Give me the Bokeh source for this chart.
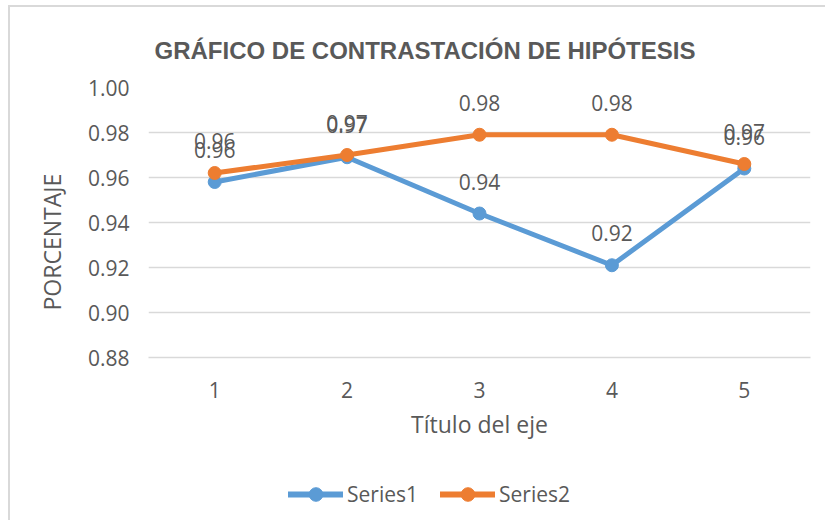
from bokeh.plotting import figure
from bokeh.layouts import column
from bokeh.models import (ColumnDataSource, LabelSet, Legend, LegendItem, Title,
                          FixedTicker, NumeralTickFormatter, Range1d)
from bokeh.core.properties import value
from bokeh.embed import file_html
from bokeh.resources import INLINE

categories = [1, 2, 3, 4, 5]
series1 = [0.958, 0.969, 0.944, 0.921, 0.964]
series2 = [0.962, 0.970, 0.979, 0.979, 0.966]
y_ticks = [0.88, 0.90, 0.92, 0.94, 0.96, 0.98, 1.00]
series_names = ["Series1", "Series2"]

title_text = "GRÁFICO DE CONTRASTACIÓN DE HIPÓTESIS"
y_title = "PORCENTAJE"
x_title = "Título del eje"

BLUE = "#5B9BD5"
ORANGE = "#ED7D31"
TXT = "#595959"
GRID = "#D9D9D9"
FONT = "Open Sans"

# the whole chart sits inside a light frame starting at (8, 5), 2px wide
p = figure(width=815, height=453, output_backend="svg", toolbar_location=None,
           x_range=Range1d(0.5, 5.5), y_range=Range1d(0.88, 1.00),
           min_border_left=138, min_border_right=15, min_border_top=80,
           min_border_bottom=103, title=None)
p.outline_line_color = None
p.background_fill_color = "white"
p.border_fill_color = "white"

p.xgrid.grid_line_color = None
p.ygrid.grid_line_color = GRID
p.ygrid.grid_line_width = 1.5
p.yaxis.ticker = FixedTicker(ticks=y_ticks)
p.yaxis.formatter = NumeralTickFormatter(format="0.00")
p.xaxis.ticker = FixedTicker(ticks=categories)

for ax in (p.xaxis[0], p.yaxis[0]):
    ax.major_tick_line_color = None
    ax.minor_tick_line_color = None
    ax.major_label_text_font = FONT
    ax.major_label_text_font_size = "21px"
    ax.major_label_text_color = TXT
p.yaxis.axis_line_color = None
p.xaxis.axis_line_color = GRID
p.xaxis.axis_line_width = 1.5
p.yaxis.major_label_standoff = 13
p.xaxis.major_label_standoff = 18
p.xaxis.axis_label = x_title
p.xaxis.axis_label_text_font = FONT
p.xaxis.axis_label_text_font_size = "23px"
p.xaxis.axis_label_text_font_style = "normal"
p.xaxis.axis_label_text_color = TXT
p.xaxis.axis_label_standoff = 7

s1 = ColumnDataSource(dict(x=categories, y=series1, t=["%.2f" % v for v in series1]))
s2 = ColumnDataSource(dict(x=categories, y=series2, t=["%.2f" % v for v in series2]))

p.line("x", "y", source=s1, color=BLUE, line_width=5, line_cap="round", line_join="round")
p.scatter("x", "y", source=s1, size=13, color=BLUE)
p.line("x", "y", source=s2, color=ORANGE, line_width=5, line_cap="round", line_join="round")
p.scatter("x", "y", source=s2, size=13, color=ORANGE)

for src in (s1, s2):
    p.add_layout(LabelSet(x="x", y="y", text="t", source=src, y_offset=32,
                          text_align="center", text_baseline="middle",
                          text_font=value(FONT), text_font_size=value("21px"),
                          text_color=TXT))

p.add_layout(Title(text=title_text, align="left", offset=6, standoff=44,
                   vertical_align="top",
                   text_font="Liberation Sans", text_font_style="bold",
                   text_font_size="24px", text_color=TXT), "above")
p.add_layout(Title(text=y_title, align="left", offset=47, standoff=33,
                   text_font=FONT, text_font_style="normal",
                   text_font_size="23px", text_color=TXT), "left")

# legend strip below the chart (its renderers fall outside its x range)
lg = figure(width=815, height=60, output_backend="svg", toolbar_location=None,
            x_range=Range1d(10, 20), y_range=Range1d(0, 1),
            x_axis_type=None, y_axis_type=None, min_border=0, title=None)
lg.outline_line_color = None
lg.grid.grid_line_color = None
lg.border_fill_color = "white"
items = []
for name, col, src in zip(series_names, (BLUE, ORANGE), (s1, s2)):
    r1 = lg.line("x", "y", source=src, color=col, line_width=6, line_cap="round")
    r2 = lg.scatter("x", "y", source=src, size=13, color=col)
    items.append(LegendItem(label=name, renderers=[r1, r2]))
legend = Legend(items=items, orientation="horizontal", location=(140, 9),
                glyph_width=55, glyph_height=34, label_standoff=4, spacing=22,
                padding=0, margin=0, border_line_color=None,
                background_fill_alpha=0, label_text_font=FONT,
                label_text_font_size="21px", label_text_color=TXT)
lg.add_layout(legend, "center")

layout = column(p, lg, spacing=0, margin=(5, 0, 0, 8),
                styles={"border-left": "2px solid #D9D9D9",
                        "border-top": "2px solid #D9D9D9"})
open("out.html", "w").write(file_html(layout, INLINE))
